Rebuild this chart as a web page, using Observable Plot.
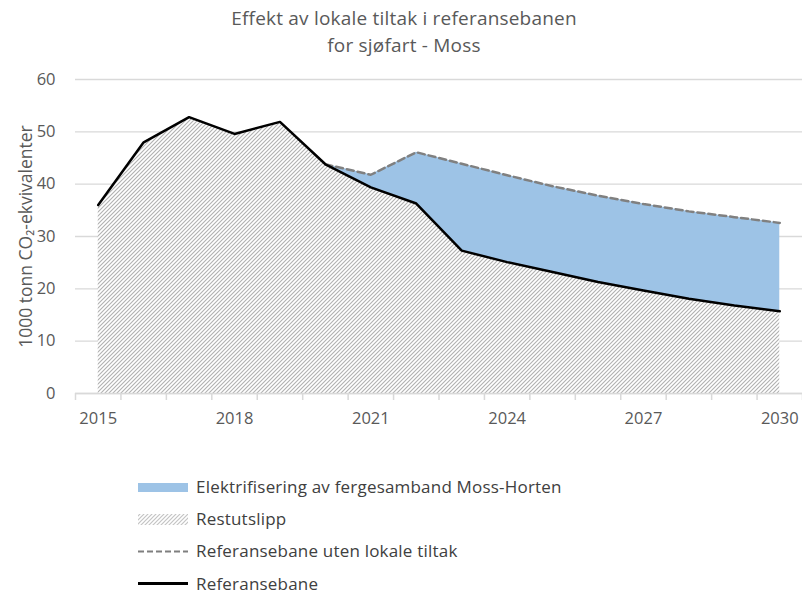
<!DOCTYPE html>
<html><head><meta charset="utf-8">
<script src="https://cdn.jsdelivr.net/npm/d3@7"></script>
<script src="https://cdn.jsdelivr.net/npm/@observablehq/plot@0.6"></script>
<style>
body{margin:0;background:#fff;font-family:"Open Sans",sans-serif;width:802px;height:594px;overflow:hidden;}
#title{height:62px;box-sizing:border-box;padding-top:5px;padding-left:6px;text-align:center;font-size:19px;letter-spacing:0.2px;line-height:27px;color:#595959;}
#chart{height:378px;}
#legend{box-sizing:border-box;padding-top:31px;padding-left:138px;}
.row{display:flex;align-items:center;height:32.2px;font-size:17px;letter-spacing:0.2px;line-height:20px;color:#404040;}
.row svg{margin-right:8px;flex:none;}
</style></head><body>
<div id="title">Effekt av lokale tiltak i referansebanen<br>for sjøfart - Moss</div>
<div id="chart"></div>
<div id="legend"></div>
<script>
const years = [2015,2016,2017,2018,2019,2020,2021,2022,2023,2024,2025,2026,2027,2028,2029,2030];
const referansebane = [36.0,48.0,52.8,49.6,51.9,43.8,39.4,36.3,27.3,25.1,23.2,21.3,19.7,18.1,16.8,15.7];
const utenYears = [2020,2021,2022,2023,2024,2025,2026,2027,2028,2029,2030];
const utenLokaleTiltak = [43.8,41.8,46.1,43.9,41.7,39.6,37.8,36.2,34.8,33.7,32.6];
const xLabelYears = [2015,2018,2021,2024,2027,2030];
const yTicks = [0,10,20,30,40,50,60];
const seriesNames = ["Elektrifisering av fergesamband Moss-Horten","Restutslipp","Referansebane uten lokale tiltak","Referansebane"];

const refData = years.map((year,i)=>({year, value: referansebane[i]}));
const utenData = utenYears.map((year,i)=>({year, uten: utenLokaleTiltak[i], ref: referansebane[years.indexOf(year)]}));
const boundaries = years.map(y=>y-0.5).concat([years[years.length-1]+0.5]);

const chart = Plot.plot({
  width: 802, height: 378,
  marginLeft: 75, marginRight: 0, marginTop: 17, marginBottom: 47,
  x: {domain: [boundaries[0], boundaries[boundaries.length-1]]},
  y: {domain: [0, 60]},
  style: {fontFamily: "Open Sans", fontSize: "16px", color: "#595959", background: "white", overflow: "visible"},
  marks: [
    Plot.gridY(yTicks, {stroke: "#d9d9d9", strokeOpacity: 1, strokeWidth: 1.3}),
    Plot.areaY(refData, {x: "year", y: "value", fill: "url(#hatch)"}),
    Plot.areaY(utenData, {x: "year", y1: "ref", y2: "uten", fill: "#9dc3e6"}),
    Plot.ruleY([0], {stroke: "#d9d9d9", strokeWidth: 1.5}),
    Plot.axisX(boundaries, {tickSize: 7, stroke: "#d9d9d9", strokeWidth: 1.5, tickFormat: () => "", label: null}),
    Plot.axisX(xLabelYears, {tickSize: 0, tickPadding: 19, tickFormat: d => String(d), label: null, fontSize: 16.5}),
    Plot.axisY(yTicks, {tickSize: 0, tickPadding: 20, fontSize: 16.5, label: null}),
    Plot.axisY(yTicks, {tickSize: 0, tickFormat: () => "", fontSize: 17.5, label: "1000 tonn CO₂-ekvivalenter", labelAnchor: "center", labelArrow: "none", labelOffset: 56}),
    Plot.line(utenData, {x: "year", y: "uten", stroke: "#808080", strokeWidth: 2.5, strokeDasharray: "7,4"}),
    Plot.line(refData, {x: "year", y: "value", stroke: "#000", strokeWidth: 2.5})
  ]
});

const defs = d3.select(chart).insert("defs", ":first-child");
const pat = defs.append("pattern").attr("id","hatch").attr("patternUnits","userSpaceOnUse").attr("width",4).attr("height",4);
pat.append("rect").attr("width",4).attr("height",4).attr("fill","#fff");
pat.append("path").attr("d","M-1,1 L1,-1 M0,4 L4,0 M3,5 L5,3").attr("stroke","#b0b0b0").attr("stroke-width",1.1);
document.getElementById("chart").appendChild(chart);

const swatches = [
  '<rect x="0" y="3" width="50" height="9" fill="#9dc3e6"/>',
  '<rect x="0" y="2" width="50" height="11" fill="url(#hatchL)"/>',
  '<line x1="0" y1="7.5" x2="50" y2="7.5" stroke="#7f7f7f" stroke-width="2" stroke-dasharray="6,3"/>',
  '<line x1="0" y1="7.5" x2="50" y2="7.5" stroke="#000" stroke-width="3"/>'
];
const legend = document.getElementById("legend");
seriesNames.forEach((name,i)=>{
  const row = document.createElement("div");
  row.className = "row";
  const defsL = i===1 ? '<defs><pattern id="hatchL" patternUnits="userSpaceOnUse" width="4" height="4"><rect width="4" height="4" fill="#fff"/><path d="M-1,1 L1,-1 M0,4 L4,0 M3,5 L5,3" stroke="#c4c4c4" stroke-width="1.2"/></pattern></defs>' : '';
  row.innerHTML = `<svg width="50" height="15">${defsL}${swatches[i]}</svg><span>${name}</span>`;
  legend.appendChild(row);
});
</script>
</body></html>
